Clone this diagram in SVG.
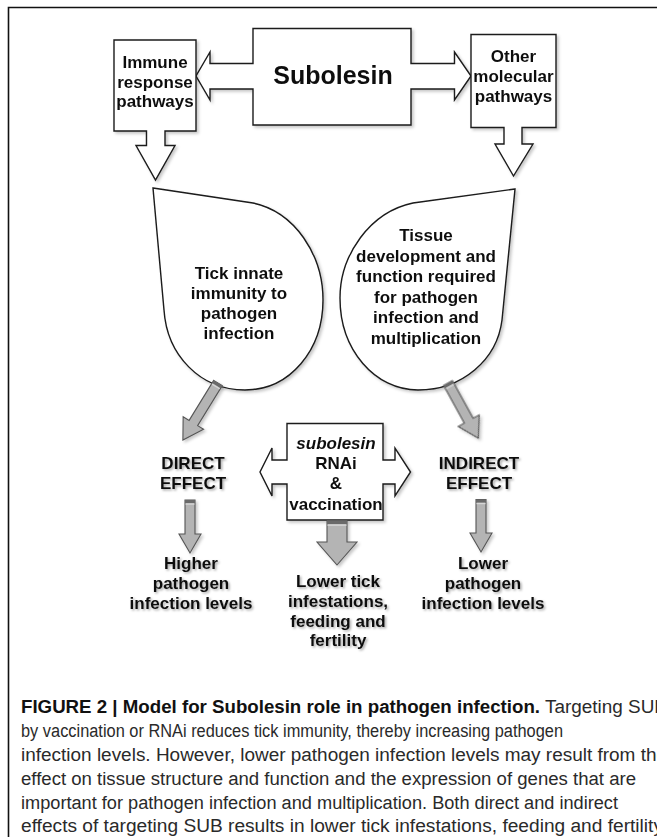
<svg xmlns="http://www.w3.org/2000/svg" width="657" height="837" viewBox="0 0 657 837">
<defs>
<filter id="sh" x="-20%" y="-20%" width="140%" height="140%">
<feDropShadow dx="2" dy="2" stdDeviation="1.6" flood-color="#000" flood-opacity="0.22"/>
</filter>
<filter id="tsh" x="-20%" y="-30%" width="140%" height="160%">
<feDropShadow dx="1.5" dy="1.5" stdDeviation="1.2" flood-color="#000" flood-opacity="0.35"/>
</filter>
</defs>
<style>
.box{fill:#fff;stroke:#1a1a1a;stroke-width:1.4;stroke-linejoin:miter}
.lbl{font-family:"Liberation Sans",Arial,sans-serif;font-weight:bold;font-size:17px;fill:#111;text-anchor:middle}
.big{font-size:25px}
.ga{fill:#b4b4b4;stroke:#555;stroke-width:1.1;stroke-linejoin:miter}
.cap{fill:#6a6a6a}
.capl{fill:#d6d6d6}
.cpt{font-family:"Liberation Sans",Arial,sans-serif;font-size:18px;fill:#2a2a2a}
.cpb{font-weight:bold;fill:#111}
</style>
<rect width="657" height="837" fill="#fff"/>
<path d="M8.5,837 V7.5 H657" fill="none" stroke="#111" stroke-width="1.6"/>

<g id="subolesin" filter="url(#sh)">
<path class="box" d="M253,28.5 H411 V63.5 H454.5 V52 L471,76 L454.5,100 V89 H411 V125 H253 V89 H210 V100 L196,76 L210,52 V63.5 H253 Z"/>
<text class="lbl big" x="333" y="84">Subolesin</text>
</g>

<g id="immune" filter="url(#sh)">
<path class="box" d="M114,40 H196 V131 H165 V145.5 H175 L155.5,180 L136,145.5 H146.5 V131 H114 Z"/>
<text class="lbl" x="155" y="67.5">Immune</text>
<text class="lbl" x="155" y="87.5">response</text>
<text class="lbl" x="155" y="107">pathways</text>
</g>

<g id="other" filter="url(#sh)">
<path class="box" d="M471,34.5 H556 V127.5 H522 V144 H533 L513.5,176 L495,144 H504 V127.5 H471 Z"/>
<text class="lbl" x="513.5" y="62">Other</text>
<text class="lbl" x="513.5" y="82">molecular</text>
<text class="lbl" x="513.5" y="102">pathways</text>
</g>

<g id="innate" filter="url(#sh)">
<path class="box" d="M153,188 L253,203 C295,212 323,255 323,300 C323,350 290,390 245,390 C200,390 167,355 164,310 Z"/>
<text class="lbl" x="239" y="278.5">Tick innate</text>
<text class="lbl" x="239" y="298.5">immunity to</text>
<text class="lbl" x="239" y="318.5">pathogen</text>
<text class="lbl" x="239" y="338.5">infection</text>
</g>

<g id="tissue" filter="url(#sh)">
<path class="box" d="M515,189 L413,203 C370,212 340,255 340,298 C340,350 375,390 418,390 C462,390 497,360 502,320 Z"/>
<text class="lbl" x="426" y="241">Tissue</text>
<text class="lbl" x="426" y="261.5">development and</text>
<text class="lbl" x="426" y="282">function required</text>
<text class="lbl" x="426" y="302.5">for pathogen</text>
<text class="lbl" x="426" y="323">infection and</text>
<text class="lbl" x="426" y="343.5">multiplication</text>
</g>

<g id="rnai" filter="url(#sh)">
<path class="box" d="M287,423.5 H383 V460 H395 V448 L410.5,472 L395,496 V484 H383 V520 H287 V484 H272 V496 L260,472 L272,448 V460 H287 Z"/>
<text class="lbl" x="336" y="448.5" font-style="italic">subolesin</text>
<text class="lbl" x="336" y="468.5">RNAi</text>
<text class="lbl" x="336" y="488.5">&amp;</text>
<text class="lbl" x="336" y="510">vaccination</text>
</g>

<g id="direct" filter="url(#tsh)">
<text class="lbl" x="193" y="468.5">DIRECT</text>
<text class="lbl" x="193" y="488.5">EFFECT</text>
</g>

<g id="indirect" filter="url(#tsh)">
<text class="lbl" x="479" y="468.5">INDIRECT</text>
<text class="lbl" x="479" y="488.5">EFFECT</text>
</g>

<g id="higher" filter="url(#tsh)">
<text class="lbl" x="191" y="568.5">Higher</text>
<text class="lbl" x="191" y="588.5">pathogen</text>
<text class="lbl" x="191" y="608.5">infection levels</text>
</g>

<g id="lowertick" filter="url(#tsh)">
<text class="lbl" x="338" y="587">Lower tick</text>
<text class="lbl" x="338" y="606.5">infestations,</text>
<text class="lbl" x="338" y="626.5">feeding and</text>
<text class="lbl" x="338" y="646">fertility</text>
</g>

<g id="lowerpath" filter="url(#tsh)">
<text class="lbl" x="483" y="568.5">Lower</text>
<text class="lbl" x="483" y="588.5">pathogen</text>
<text class="lbl" x="483" y="608.5">infection levels</text>
</g>

<g id="connectors" filter="url(#sh)">
<g transform="translate(218,383) rotate(31.6)">
<path class="ga" d="M-5,0 H5 V47 H12 L0,67 L-12,47 H-5 Z"/>
<rect class="cap" x="-5" y="0" width="10" height="3"/>
<rect class="capl" x="-4.5" y="3.5" width="9" height="1.2"/>
</g>
<g transform="translate(448,383) rotate(-28.8)">
<path class="ga" d="M-5,0 H5 V43 H12 L0,63 L-12,43 H-5 Z"/>
<rect class="cap" x="-5" y="0" width="10" height="3"/>
<rect class="capl" x="-4.5" y="3.5" width="9" height="1.2"/>
</g>
<g>
<path class="ga" d="M185,500 H195 V534 H201 L190,553 L179,534 H185 Z"/>
<rect class="cap" x="185" y="500" width="10" height="3"/>
<rect class="capl" x="185.5" y="503.5" width="9" height="1.2"/>
</g>
<g>
<path class="ga" d="M476,499.5 H486 V533 H492 L481,552 L470,533 H476 Z"/>
<rect class="cap" x="476" y="499.5" width="10" height="3"/>
<rect class="capl" x="476.5" y="503" width="9" height="1.2"/>
</g>
<g>
<path class="ga" d="M327,520.5 H347 V542 H357 L337,565 L317,542 H327 Z"/>
<rect class="cap" x="327" y="520.5" width="20" height="3.5"/>
<rect class="capl" x="327.5" y="524.5" width="19" height="1.3"/>
</g>
</g>

<g id="caption">
<text class="cpt" x="21" y="713"><tspan class="cpb" textLength="519" lengthAdjust="spacingAndGlyphs">FIGURE 2 | Model for Subolesin role in pathogen infection.</tspan><tspan textLength="127" lengthAdjust="spacingAndGlyphs"> Targeting SUB</tspan></text>
<text class="cpt" x="21" y="737" textLength="542" lengthAdjust="spacingAndGlyphs">by vaccination or RNAi reduces tick immunity, thereby increasing pathogen</text>
<text class="cpt" x="21" y="761" textLength="646" lengthAdjust="spacingAndGlyphs">infection levels. However, lower pathogen infection levels may result from the</text>
<text class="cpt" x="21" y="785" textLength="615" lengthAdjust="spacingAndGlyphs">effect on tissue structure and function and the expression of genes that are</text>
<text class="cpt" x="21" y="809" textLength="597" lengthAdjust="spacingAndGlyphs">important for pathogen infection and multiplication. Both direct and indirect</text>
<text class="cpt" x="21" y="832" textLength="642" lengthAdjust="spacingAndGlyphs">effects of targeting SUB results in lower tick infestations, feeding and fertility</text>
</g>
</svg>
